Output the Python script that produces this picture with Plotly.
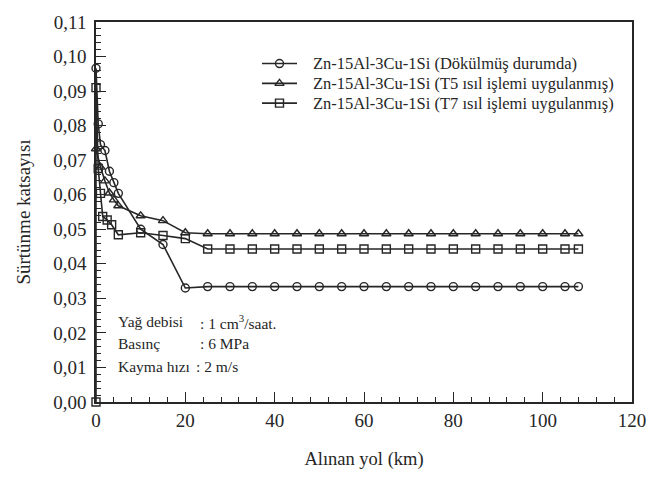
import plotly.graph_objects as go

# Sliding distance (km) and friction coefficient for each condition
dist_cast = [0, 0.5, 1, 2, 3, 4, 5, 10, 15, 20, 25, 30, 35, 40, 45, 50, 55, 60,
             65, 70, 75, 80, 85, 90, 95, 100, 105, 108]
cof_cast = [0.0966, 0.0805, 0.0745, 0.0728, 0.0668, 0.0635, 0.0604, 0.0500,
            0.0456, 0.0330, 0.0334, 0.0334, 0.0334, 0.0334, 0.0334, 0.0334,
            0.0334, 0.0334, 0.0334, 0.0334, 0.0334, 0.0334, 0.0334, 0.0334,
            0.0334, 0.0334, 0.0334, 0.0334]

dist_t5 = [0, 1, 2, 3, 4, 5, 10, 15, 20, 25, 30, 35, 40, 45, 50, 55, 60,
           65, 70, 75, 80, 85, 90, 95, 100, 105, 108]
cof_t5 = [0.0733, 0.0680, 0.0640, 0.0605, 0.0585, 0.0568, 0.0539, 0.0525,
          0.0490, 0.0487, 0.0487, 0.0487, 0.0487, 0.0487, 0.0487, 0.0487,
          0.0487, 0.0487, 0.0487, 0.0487, 0.0487, 0.0487, 0.0487, 0.0487,
          0.0487, 0.0487, 0.0487]

dist_t7 = [0, 0, 0.5, 1, 1.5, 2.5, 3.5, 5, 10, 15, 20, 25, 30, 35, 40, 45, 50,
           55, 60, 65, 70, 75, 80, 85, 90, 95, 100, 105, 108]
cof_t7 = [0.0, 0.0910, 0.0676, 0.0604, 0.0537, 0.0527, 0.0513, 0.0484, 0.0490,
          0.0482, 0.0473, 0.0443, 0.0443, 0.0443, 0.0443, 0.0443, 0.0443,
          0.0443, 0.0443, 0.0443, 0.0443, 0.0443, 0.0443, 0.0443, 0.0443,
          0.0443, 0.0443, 0.0443, 0.0443]

series_names = [
    "Zn-15Al-3Cu-1Si (Dökülmüş durumda)",
    "Zn-15Al-3Cu-1Si (T5 ısıl işlemi uygulanmış)",
    "Zn-15Al-3Cu-1Si (T7 ısıl işlemi uygulanmış)",
]
series_symbols = ["circle-open", "triangle-up-open", "square-open"]

x_ticks = [0, 20, 40, 60, 80, 100, 120]
y_ticks = [0.00, 0.01, 0.02, 0.03, 0.04, 0.05, 0.06, 0.07, 0.08, 0.09, 0.10, 0.11]

test_labels = ["Yağ debisi", "Basınç", "Kayma hızı"]
test_values = [": 1 cm<sup>3</sup>/saat.", ": 6 MPa", ": 2 m/s"]

INK = "#262626"
FONT = "Liberation Serif"

# plot-area geometry in pixels
L, R, T, B = 96, 38, 20, 74
W, H = 670, 478
PW, PH = W - L - R, H - T - B


def px_x(px):
    return (px - L) / PW


def px_y(py):
    return (H - B - py) / PH


line_style = dict(color=INK, width=1.6)


def marker_style(sym):
    return dict(symbol=sym, size=8, color=INK, line=dict(width=1.4, color=INK))


fig = go.Figure()
for xs, ys, name, sym in zip([dist_cast, dist_t5, dist_t7],
                             [cof_cast, cof_t5, cof_t7],
                             series_names, series_symbols):
    fig.add_trace(go.Scatter(
        x=xs, y=ys, name=name, mode="lines+markers",
        line=line_style, marker=marker_style(sym),
        cliponaxis=False, showlegend=False,
    ))

# Key drawn on a hidden overlay axis spanning the plot area (0..1 both ways)
key_rows_px = [62, 82, 102]
key_x0, key_x1, key_text_px = 262, 297, 311
for name, sym, ry in zip(series_names, series_symbols, key_rows_px):
    yy = px_y(ry)
    fig.add_trace(go.Scatter(
        x=[px_x(key_x0), px_x(key_x1)], y=[yy, yy], mode="lines",
        line=line_style, xaxis="x2", yaxis="y2", showlegend=False, hoverinfo="skip",
    ))
    fig.add_trace(go.Scatter(
        x=[px_x((key_x0 + key_x1) / 2)], y=[yy], mode="markers",
        marker=marker_style(sym), xaxis="x2", yaxis="y2", showlegend=False,
        hoverinfo="skip",
    ))
    fig.add_annotation(x=px_x(key_text_px), y=yy, xref="paper", yref="paper",
                       text=name, showarrow=False, xanchor="left", yanchor="middle",
                       font=dict(family=FONT, size=16.5, color=INK))

# Test conditions block in the lower-left corner
label_y = [0.0232, 0.0168, 0.0104]
for lab, val, yy, cx in zip(test_labels, test_values, label_y, [198, 198, 194]):
    fig.add_annotation(x=px_x(116), y=yy, xref="paper", yref="y", text=lab,
                       showarrow=False, xanchor="left", yanchor="middle",
                       font=dict(family=FONT, size=15.5, color=INK))
    fig.add_annotation(x=px_x(cx), y=yy, xref="paper", yref="y", text=val,
                       showarrow=False, xanchor="left", yanchor="middle",
                       font=dict(family=FONT, size=15.5, color=INK))

axis_common = dict(
    showgrid=False, zeroline=False, showline=True, linecolor=INK, linewidth=1.6,
    mirror=True, ticks="inside", tickcolor=INK, tickwidth=1.3, ticklen=10,
    tickfont=dict(family=FONT, size=19, color=INK),
)

fig.update_layout(
    xaxis=dict(
        range=[0, 120], tickvals=x_ticks,
        minor=dict(dtick=4, ticks="inside", ticklen=5, tickcolor=INK, tickwidth=1),
        title=dict(text="Alınan yol (km)", font=dict(family=FONT, size=18.5, color=INK),
                   standoff=22),
        **axis_common,
    ),
    yaxis=dict(
        range=[0, 0.11], tickvals=y_ticks, tickformat=".2f",
        minor=dict(dtick=0.002, ticks="inside", ticklen=5, tickcolor=INK, tickwidth=1),
        title=dict(text="Sürtünme katsayısı", font=dict(family=FONT, size=19, color=INK),
                   standoff=18),
        ticklabelstandoff=4,
        **axis_common,
    ),
    xaxis2=dict(range=[0, 1], overlaying="x", visible=False, fixedrange=True),
    yaxis2=dict(range=[0, 1], overlaying="y", visible=False, fixedrange=True),
    width=W, height=H,
    margin=dict(l=L, r=R, t=T, b=B),
    paper_bgcolor="white", plot_bgcolor="white",
    separators=",.",
    showlegend=False,
)

fig.write_html("out.html")
